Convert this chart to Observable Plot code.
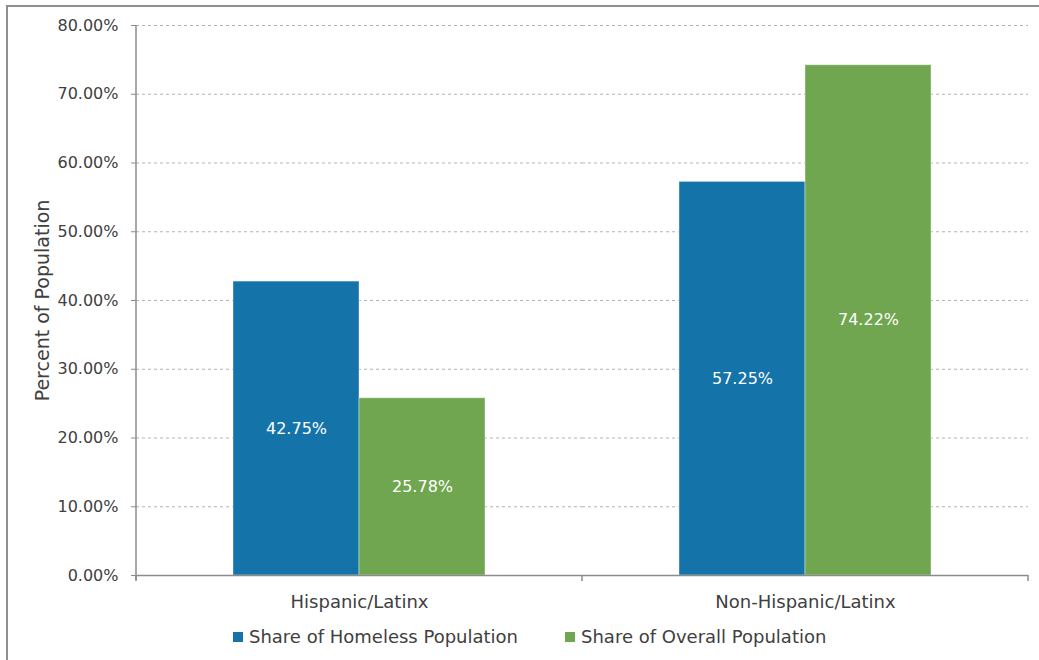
<!DOCTYPE html>
<html>
<head>
<meta charset="utf-8">
<script src="https://cdn.jsdelivr.net/npm/d3@7"></script>
<script src="https://cdn.jsdelivr.net/npm/@observablehq/plot@0.6"></script>
<style>
  html, body { margin: 0; padding: 0; background: #fff; }
  #wrap { position: relative; width: 1039px; height: 660px; overflow: hidden; font-family: "DejaVu Sans", sans-serif; color: #404040; }
  #frame { position: absolute; left: 6px; top: 5px; width: 1100px; height: 700px; border-top: 2px solid #8f8f8f; border-left: 2px solid #8f8f8f; pointer-events: none; }
  #chart { position: absolute; left: 0; top: 0; }
  #legend { position: absolute; left: 233px; top: 626px; display: flex; align-items: center; font-size: 18px; line-height: 22px; white-space: nowrap; }
  #legend .item { display: flex; align-items: center; margin-right: 47px; }
  #legend .sw { width: 10px; height: 10px; margin-right: 6px; }
</style>
</head>
<body>
<div id="wrap">
  <div id="chart"></div>
  <div id="legend"></div>
  <div id="frame"></div>
</div>
<script>
const categories = ["Hispanic/Latinx", "Non-Hispanic/Latinx"];
const series = ["Share of Homeless Population", "Share of Overall Population"];
const homeless = [42.75, 57.25];
const overall = [25.78, 74.22];
const yTicks = [0, 10, 20, 30, 40, 50, 60, 70, 80];
const colors = ["#1473a8", "#70a64f"];
const yLabel = "Percent of Population";

const data = categories.flatMap((c, i) => [
  {category: c, series: series[0], value: homeless[i]},
  {category: c, series: series[1], value: overall[i]}
]);
const pct = d => d.toFixed(2) + "%";

const chart = Plot.plot({
  width: 1039,
  height: 620,
  marginLeft: 136,
  marginRight: 11,
  marginTop: 25,
  marginBottom: 45,
  style: {fontFamily: "'DejaVu Sans', sans-serif", fontSize: "18px", color: "#404040", background: "transparent"},
  fx: {domain: categories, padding: 0, label: null, axis: "bottom", tickSize: 0, tickPadding: 20},
  x: {domain: series, paddingInner: 0, paddingOuter: 0.763, axis: null},
  y: {domain: [0, 80], axis: null},
  color: {domain: series, range: colors},
  marks: [
    Plot.gridY(yTicks.filter(d => d > 0), {stroke: "#b3b3b3", strokeOpacity: 1, strokeWidth: 1, strokeDasharray: "3,3"}),
    Plot.barY(data, {fx: "category", x: "series", y: "value", fill: "series", stroke: "#ffffff", strokeOpacity: 0.4, strokeWidth: 1}),
    Plot.text(data, {fx: "category", x: "series", y: d => d.value / 2, text: d => pct(d.value), fill: "#ffffff", fontSize: 16}),
    Plot.ruleY([0], {stroke: "#8c8c8c", strokeWidth: 1.5}),
    Plot.axisY({ticks: yTicks, tickFormat: pct, tickSize: 5, tickPadding: 13, fontSize: 16, label: null, stroke: "#8c8c8c", fill: "#404040"}),
    Plot.text([yLabel], {frameAnchor: "left", textAnchor: "middle", dx: -94, rotate: -90, fontSize: 19, fill: "#404040", facetAnchor: "left"})
  ]
});
document.getElementById("chart").appendChild(chart);

// axis line and category boundary ticks, placed with Plot's own scales
const fx = chart.scale("fx"), y = chart.scale("y");
const edges = categories.map(c => fx.apply(c)).concat([fx.apply(categories[categories.length - 1]) + fx.bandwidth]);
const g = d3.select(chart).append("g").attr("stroke", "#8c8c8c").attr("stroke-width", 1.5);
g.append("line").attr("x1", edges[0]).attr("x2", edges[0]).attr("y1", y.apply(0) + 5).attr("y2", y.apply(80));
edges.forEach(e => g.append("line").attr("x1", e).attr("x2", e).attr("y1", y.apply(0)).attr("y2", y.apply(0) + 6));

// legend
const legend = d3.select("#legend");
series.forEach((s, i) => {
  const it = legend.append("div").attr("class", "item");
  it.append("div").attr("class", "sw").style("background", colors[i]);
  it.append("span").text(s);
});
</script>
</body>
</html>
